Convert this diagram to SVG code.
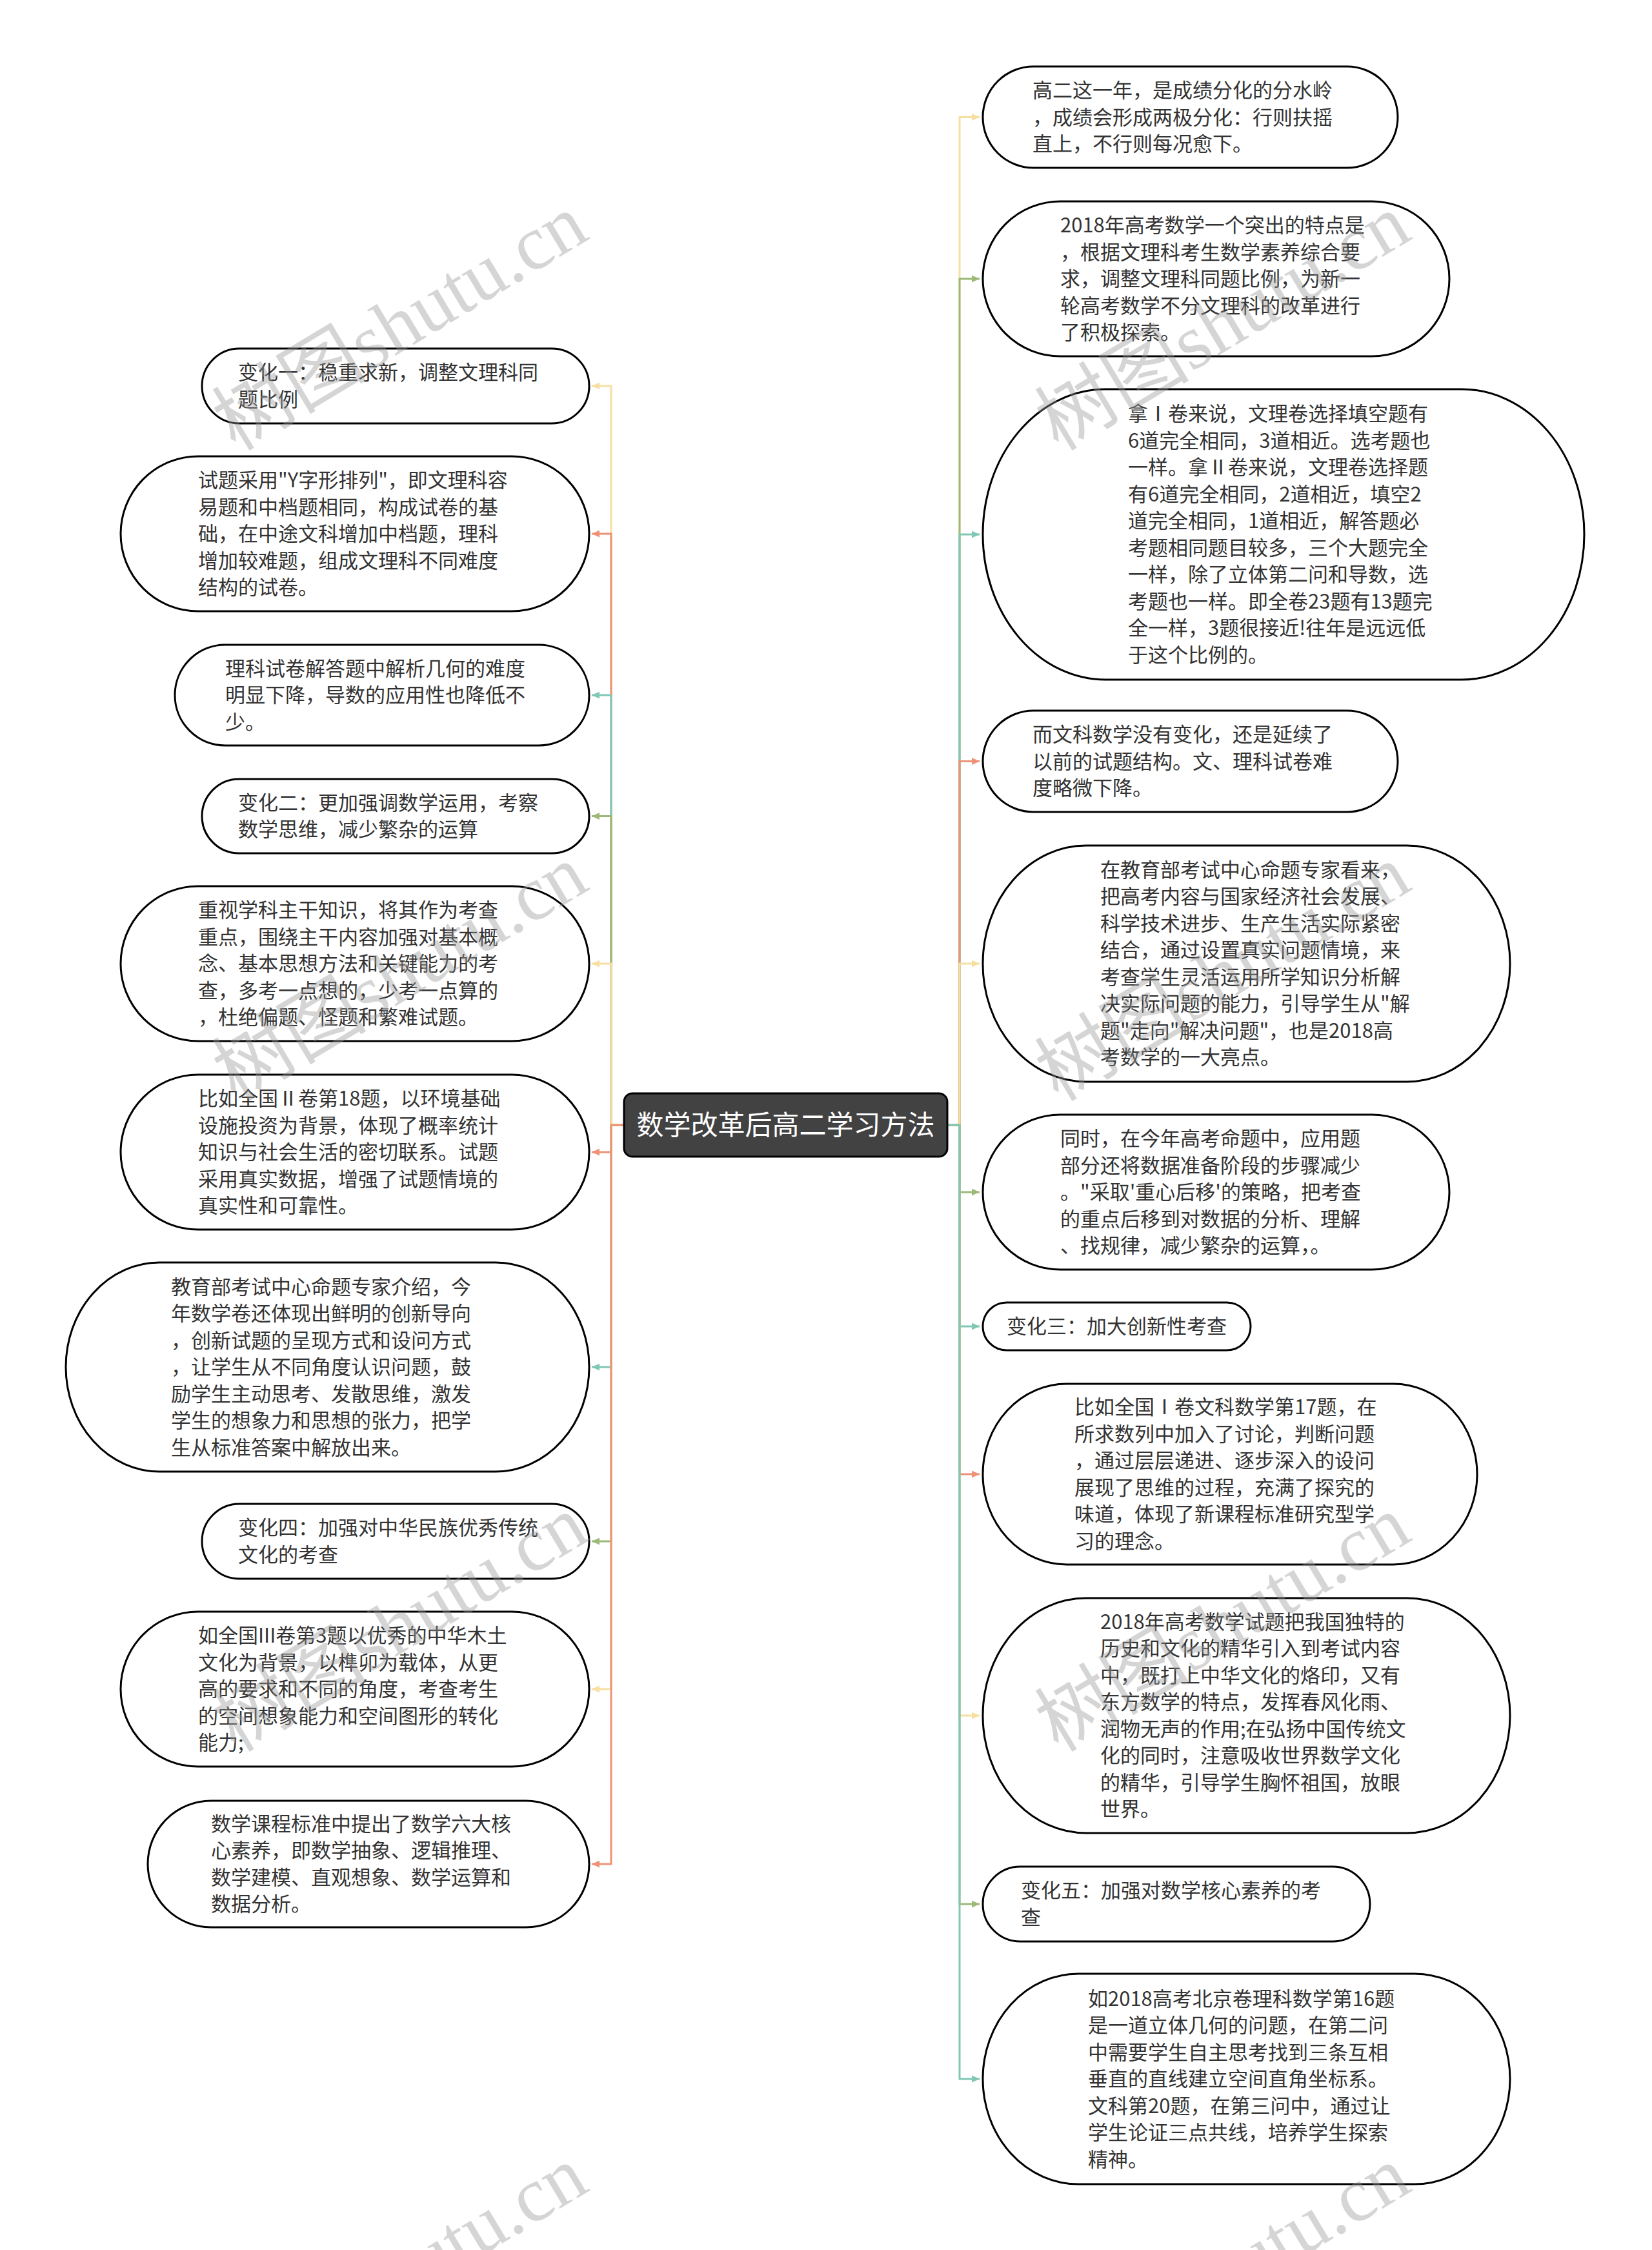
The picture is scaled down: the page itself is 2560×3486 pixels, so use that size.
<svg xmlns="http://www.w3.org/2000/svg" width="2560" height="3486" viewBox="0 0 2560 3486">
<defs>
<style>
.nd rect{fill:#fff;stroke:#000;stroke-width:3}
.t{font-family:"Noto Sans CJK SC","Noto Sans",sans-serif;font-size:31px;fill:#333}
.c{fill:none;stroke-width:3}
.cy{stroke:#F6DFA1}.co{stroke:#EE9276}.ct{stroke:#80C7B6}.cg{stroke:#9DB977}
.wm{font-family:"Liberation Serif","Noto Sans CJK SC",serif;font-size:120px;fill:#999;opacity:0.4}
</style>
<marker id="ay" markerUnits="userSpaceOnUse" markerWidth="12" markerHeight="11" refX="12" refY="5.5" orient="auto"><path d="M0,0L12,5.5L0,11z" fill="#F6DFA1"/></marker>
<marker id="ao" markerUnits="userSpaceOnUse" markerWidth="12" markerHeight="11" refX="12" refY="5.5" orient="auto"><path d="M0,0L12,5.5L0,11z" fill="#EE9276"/></marker>
<marker id="at" markerUnits="userSpaceOnUse" markerWidth="12" markerHeight="11" refX="12" refY="5.5" orient="auto"><path d="M0,0L12,5.5L0,11z" fill="#80C7B6"/></marker>
<marker id="ag" markerUnits="userSpaceOnUse" markerWidth="12" markerHeight="11" refX="12" refY="5.5" orient="auto"><path d="M0,0L12,5.5L0,11z" fill="#9DB977"/></marker>
</defs>
<rect width="2560" height="3486" fill="#fff"/>
<g id="connectors">
<path class="c cy" marker-end="url(#ay)" d="M967 1743H947V598H917"/>
<path class="c co" marker-end="url(#ao)" d="M967 1743H947V827H917"/>
<path class="c ct" marker-end="url(#at)" d="M967 1743H947V1077H917"/>
<path class="c cg" marker-end="url(#ag)" d="M967 1743H947V1264.5H917"/>
<path class="c cy" marker-end="url(#ay)" d="M967 1743H947V1493H917"/>
<path class="c co" marker-end="url(#ao)" d="M967 1743H947V1785H917"/>
<path class="c ct" marker-end="url(#at)" d="M967 1743H947V2118H917"/>
<path class="c cg" marker-end="url(#ag)" d="M967 1743H947V2388H917"/>
<path class="c cy" marker-end="url(#ay)" d="M967 1743H947V2617H917"/>
<path class="c co" marker-end="url(#ao)" d="M967 1743H947V2888H917"/>
<path class="c cy" marker-end="url(#ay)" d="M1468 1743H1487V181.5H1518"/>
<path class="c cg" marker-end="url(#ag)" d="M1468 1743H1487V432H1518"/>
<path class="c ct" marker-end="url(#at)" d="M1468 1743H1487V828H1518"/>
<path class="c co" marker-end="url(#ao)" d="M1468 1743H1487V1179.5H1518"/>
<path class="c cy" marker-end="url(#ay)" d="M1468 1743H1487V1493H1518"/>
<path class="c cg" marker-end="url(#ag)" d="M1468 1743H1487V1847H1518"/>
<path class="c ct" marker-end="url(#at)" d="M1468 1743H1487V2055H1518"/>
<path class="c co" marker-end="url(#ao)" d="M1468 1743H1487V2284H1518"/>
<path class="c cy" marker-end="url(#ay)" d="M1468 1743H1487V2658H1518"/>
<path class="c cg" marker-end="url(#ag)" d="M1468 1743H1487V2950H1518"/>
<path class="c ct" marker-end="url(#at)" d="M1468 1743H1487V3221H1518"/>
</g>
<g id="center">
<rect x="967" y="1694" width="501" height="98" rx="13" fill="#424242" stroke="#000" stroke-width="3"/>
<text x="1217.5" y="1758" text-anchor="middle" font-family="Noto Sans CJK SC,sans-serif" font-size="42" fill="#fff">数学改革后高二学习方法</text>
</g>
<g id="L1" class="nd"><rect x="313" y="540" width="600" height="116" rx="58"/>
<text class="t" x="369" y="588.25"><tspan x="369">变化一：稳重求新，调整文理科同</tspan><tspan x="369" dy="41.5">题比例</tspan></text></g>
<g id="L2" class="nd"><rect x="187" y="707" width="726" height="240" rx="120"/>
<text class="t" x="307" y="755"><tspan x="307">试题采用"Y字形排列"，即文理科容</tspan><tspan x="307" dy="41.5">易题和中档题相同，构成试卷的基</tspan><tspan x="307" dy="41.5">础，在中途文科增加中档题，理科</tspan><tspan x="307" dy="41.5">增加较难题，组成文理科不同难度</tspan><tspan x="307" dy="41.5">结构的试卷。</tspan></text></g>
<g id="L3" class="nd"><rect x="271" y="999" width="642" height="156" rx="78"/>
<text class="t" x="349" y="1046.5"><tspan x="349">理科试卷解答题中解析几何的难度</tspan><tspan x="349" dy="41.5">明显下降，导数的应用性也降低不</tspan><tspan x="349" dy="41.5">少。</tspan></text></g>
<g id="L4" class="nd"><rect x="313" y="1207" width="600" height="115" rx="57.5"/>
<text class="t" x="369" y="1254.75"><tspan x="369">变化二：更加强调数学运用，考察</tspan><tspan x="369" dy="41.5">数学思维，减少繁杂的运算</tspan></text></g>
<g id="L5" class="nd"><rect x="187" y="1373" width="726" height="240" rx="120"/>
<text class="t" x="307" y="1421"><tspan x="307">重视学科主干知识，将其作为考查</tspan><tspan x="307" dy="41.5">重点，围绕主干内容加强对基本概</tspan><tspan x="307" dy="41.5">念、基本思想方法和关键能力的考</tspan><tspan x="307" dy="41.5">查，多考一点想的，少考一点算的</tspan><tspan x="307" dy="41.5">，杜绝偏题、怪题和繁难试题。</tspan></text></g>
<g id="L6" class="nd"><rect x="187" y="1665" width="726" height="240" rx="120"/>
<text class="t" x="307" y="1713"><tspan x="307">比如全国Ⅱ卷第18题，以环境基础</tspan><tspan x="307" dy="41.5">设施投资为背景，体现了概率统计</tspan><tspan x="307" dy="41.5">知识与社会生活的密切联系。试题</tspan><tspan x="307" dy="41.5">采用真实数据，增强了试题情境的</tspan><tspan x="307" dy="41.5">真实性和可靠性。</tspan></text></g>
<g id="L7" class="nd"><rect x="102" y="1956" width="811" height="324" rx="145" ry="162"/>
<text class="t" x="265" y="2004.5"><tspan x="265">教育部考试中心命题专家介绍，今</tspan><tspan x="265" dy="41.5">年数学卷还体现出鲜明的创新导向</tspan><tspan x="265" dy="41.5">，创新试题的呈现方式和设问方式</tspan><tspan x="265" dy="41.5">，让学生从不同角度认识问题，鼓</tspan><tspan x="265" dy="41.5">励学生主动思考、发散思维，激发</tspan><tspan x="265" dy="41.5">学生的想象力和思想的张力，把学</tspan><tspan x="265" dy="41.5">生从标准答案中解放出来。</tspan></text></g>
<g id="L8" class="nd"><rect x="313" y="2330" width="600" height="116" rx="58"/>
<text class="t" x="369" y="2378.25"><tspan x="369">变化四：加强对中华民族优秀传统</tspan><tspan x="369" dy="41.5">文化的考查</tspan></text></g>
<g id="L9" class="nd"><rect x="187" y="2497" width="726" height="240" rx="120"/>
<text class="t" x="307" y="2545"><tspan x="307">如全国III卷第3题以优秀的中华木土</tspan><tspan x="307" dy="41.5">文化为背景，以榫卯为载体，从更</tspan><tspan x="307" dy="41.5">高的要求和不同的角度，考查考生</tspan><tspan x="307" dy="41.5">的空间想象能力和空间图形的转化</tspan><tspan x="307" dy="41.5">能力;</tspan></text></g>
<g id="L10" class="nd"><rect x="229" y="2790" width="684" height="196" rx="98"/>
<text class="t" x="327" y="2836.75"><tspan x="327">数学课程标准中提出了数学六大核</tspan><tspan x="327" dy="41.5">心素养，即数学抽象、逻辑推理、</tspan><tspan x="327" dy="41.5">数学建模、直观想象、数学运算和</tspan><tspan x="327" dy="41.5">数据分析。</tspan></text></g>
<g id="R1" class="nd"><rect x="1523" y="103" width="643" height="157" rx="78.5"/>
<text class="t" x="1600" y="151"><tspan x="1600">高二这一年，是成绩分化的分水岭</tspan><tspan x="1600" dy="41.5">，成绩会形成两极分化：行则扶摇</tspan><tspan x="1600" dy="41.5">直上，不行则每况愈下。</tspan></text></g>
<g id="R2" class="nd"><rect x="1523" y="312" width="723" height="240" rx="120"/>
<text class="t" x="1643" y="360"><tspan x="1643">2018年高考数学一个突出的特点是</tspan><tspan x="1643" dy="41.5">，根据文理科考生数学素养综合要</tspan><tspan x="1643" dy="41.5">求，调整文理科同题比例，为新一</tspan><tspan x="1643" dy="41.5">轮高考数学不分文理科的改革进行</tspan><tspan x="1643" dy="41.5">了积极探索。</tspan></text></g>
<g id="R3" class="nd"><rect x="1523" y="603" width="932" height="450" rx="190" ry="225"/>
<text class="t" x="1748" y="652.25"><tspan x="1748">拿Ⅰ卷来说，文理卷选择填空题有</tspan><tspan x="1748" dy="41.5">6道完全相同，3道相近。选考题也</tspan><tspan x="1748" dy="41.5">一样。拿Ⅱ卷来说，文理卷选择题</tspan><tspan x="1748" dy="41.5">有6道完全相同，2道相近，填空2</tspan><tspan x="1748" dy="41.5">道完全相同，1道相近，解答题必</tspan><tspan x="1748" dy="41.5">考题相同题目较多，三个大题完全</tspan><tspan x="1748" dy="41.5">一样，除了立体第二问和导数，选</tspan><tspan x="1748" dy="41.5">考题也一样。即全卷23题有13题完</tspan><tspan x="1748" dy="41.5">全一样，3题很接近!往年是远远低</tspan><tspan x="1748" dy="41.5">于这个比例的。</tspan></text></g>
<g id="R4" class="nd"><rect x="1523" y="1101" width="643" height="157" rx="78.5"/>
<text class="t" x="1600" y="1149"><tspan x="1600">而文科数学没有变化，还是延续了</tspan><tspan x="1600" dy="41.5">以前的试题结构。文、理科试卷难</tspan><tspan x="1600" dy="41.5">度略微下降。</tspan></text></g>
<g id="R5" class="nd"><rect x="1523" y="1310" width="817" height="366" rx="160" ry="183"/>
<text class="t" x="1705" y="1358.75"><tspan x="1705">在教育部考试中心命题专家看来，</tspan><tspan x="1705" dy="41.5">把高考内容与国家经济社会发展、</tspan><tspan x="1705" dy="41.5">科学技术进步、生产生活实际紧密</tspan><tspan x="1705" dy="41.5">结合，通过设置真实问题情境，来</tspan><tspan x="1705" dy="41.5">考查学生灵活运用所学知识分析解</tspan><tspan x="1705" dy="41.5">决实际问题的能力，引导学生从"解</tspan><tspan x="1705" dy="41.5">题"走向"解决问题"，也是2018高</tspan><tspan x="1705" dy="41.5">考数学的一大亮点。</tspan></text></g>
<g id="R6" class="nd"><rect x="1523" y="1727" width="723" height="240" rx="120"/>
<text class="t" x="1643" y="1775"><tspan x="1643">同时，在今年高考命题中，应用题</tspan><tspan x="1643" dy="41.5">部分还将数据准备阶段的步骤减少</tspan><tspan x="1643" dy="41.5">。"采取'重心后移'的策略，把考查</tspan><tspan x="1643" dy="41.5">的重点后移到对数据的分析、理解</tspan><tspan x="1643" dy="41.5">、找规律，减少繁杂的运算，。</tspan></text></g>
<g id="R7" class="nd"><rect x="1523" y="2018" width="415" height="74" rx="37"/>
<text class="t" x="1560" y="2066">变化三：加大创新性考查</text></g>
<g id="R8" class="nd"><rect x="1523" y="2144" width="766" height="280" rx="130" ry="140"/>
<text class="t" x="1665" y="2191.25"><tspan x="1665">比如全国Ⅰ卷文科数学第17题，在</tspan><tspan x="1665" dy="41.5">所求数列中加入了讨论，判断问题</tspan><tspan x="1665" dy="41.5">，通过层层递进、逐步深入的设问</tspan><tspan x="1665" dy="41.5">展现了思维的过程，充满了探究的</tspan><tspan x="1665" dy="41.5">味道，体现了新课程标准研究型学</tspan><tspan x="1665" dy="41.5">习的理念。</tspan></text></g>
<g id="R9" class="nd"><rect x="1523" y="2476" width="817" height="364" rx="160" ry="182"/>
<text class="t" x="1705" y="2523.75"><tspan x="1705">2018年高考数学试题把我国独特的</tspan><tspan x="1705" dy="41.5">历史和文化的精华引入到考试内容</tspan><tspan x="1705" dy="41.5">中，既打上中华文化的烙印，又有</tspan><tspan x="1705" dy="41.5">东方数学的特点，发挥春风化雨、</tspan><tspan x="1705" dy="41.5">润物无声的作用;在弘扬中国传统文</tspan><tspan x="1705" dy="41.5">化的同时，注意吸收世界数学文化</tspan><tspan x="1705" dy="41.5">的精华，引导学生胸怀祖国，放眼</tspan><tspan x="1705" dy="41.5">世界。</tspan></text></g>
<g id="R10" class="nd"><rect x="1523" y="2892" width="600" height="116" rx="58"/>
<text class="t" x="1582" y="2940.25"><tspan x="1582">变化五：加强对数学核心素养的考</tspan><tspan x="1582" dy="41.5">查</tspan></text></g>
<g id="R11" class="nd"><rect x="1523" y="3058" width="817" height="326" rx="148" ry="163"/>
<text class="t" x="1686" y="3107.5"><tspan x="1686">如2018高考北京卷理科数学第16题</tspan><tspan x="1686" dy="41.5">是一道立体几何的问题，在第二问</tspan><tspan x="1686" dy="41.5">中需要学生自主思考找到三条互相</tspan><tspan x="1686" dy="41.5">垂直的直线建立空间直角坐标系。</tspan><tspan x="1686" dy="41.5">文科第20题，在第三问中，通过让</tspan><tspan x="1686" dy="41.5">学生论证三点共线，培养学生探索</tspan><tspan x="1686" dy="41.5">精神。</tspan></text></g>
<g id="watermarks">
<text class="wm" transform="translate(365 700) rotate(-31)">树图shutu.cn</text>
<text class="wm" transform="translate(1640 700) rotate(-31)">树图shutu.cn</text>
<text class="wm" transform="translate(365 1708) rotate(-31)">树图shutu.cn</text>
<text class="wm" transform="translate(1640 1708) rotate(-31)">树图shutu.cn</text>
<text class="wm" transform="translate(365 2716) rotate(-31)">树图shutu.cn</text>
<text class="wm" transform="translate(1640 2716) rotate(-31)">树图shutu.cn</text>
<text class="wm" transform="translate(365 3724) rotate(-31)">树图shutu.cn</text>
<text class="wm" transform="translate(1640 3724) rotate(-31)">树图shutu.cn</text>
</g>
</svg>
